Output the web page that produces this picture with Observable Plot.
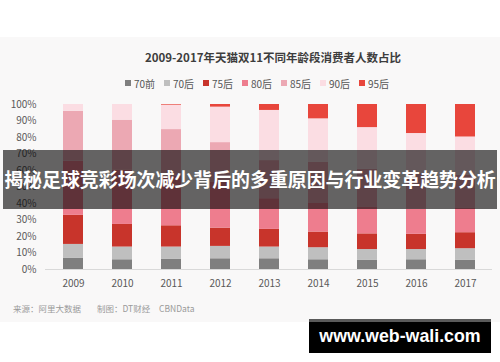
<!DOCTYPE html>
<html><head><meta charset="utf-8">
<script src="https://cdn.jsdelivr.net/npm/d3@7"></script>
<script src="https://cdn.jsdelivr.net/npm/@observablehq/plot@0.6"></script>
<style>
body{margin:0;background:#fff;}
#wrap{position:relative;width:500px;height:362px;overflow:hidden;font-family:"Noto Sans CJK SC","Noto Sans",sans-serif;background:#fff;}
#panel{position:absolute;left:0;top:37px;width:500px;height:285px;background:#f9f8f8;}
#title{position:absolute;left:46px;width:454px;top:49px;text-align:center;font-size:11.5px;line-height:16px;font-weight:bold;color:#3d3d3d;white-space:nowrap;}
.leg{position:absolute;top:76px;height:14px;display:flex;align-items:center;font-size:10px;color:#555;white-space:nowrap;}
.leg i{display:inline-block;width:6px;height:6px;margin-right:3px;}
#chart{position:absolute;left:0;top:95px;}
.foot{position:absolute;top:301px;font-size:8.5px;line-height:14px;color:#9a9a9a;white-space:nowrap;}
#banner{position:absolute;left:3px;top:150px;width:494px;height:59px;background:rgba(0,0,0,0.6);display:flex;align-items:center;justify-content:center;overflow:hidden;}
#banner span{color:#fff;font-weight:bold;font-size:19px;line-height:1;white-space:nowrap;display:inline-block;}
#wm{position:absolute;left:309px;top:319px;width:182px;height:34px;background:#000;border-top:3px solid #5a5a5a;box-sizing:border-box;color:#fff;font-family:"Liberation Sans",Arial,sans-serif;font-weight:bold;font-size:17.8px;line-height:29px;text-align:center;}
</style></head>
<body>
<div id="wrap">
  <div id="panel"></div>
  <div id="title">2009-2017年天猫双11不同年龄段消费者人数占比</div>
  <div id="legend"></div>
  <div id="chart"></div>
  <div class="foot" style="left:13px">来源：阿里大数据</div>
  <div class="foot" style="left:97px">制图：DT财经</div>
  <div class="foot" style="left:159px">CBNData</div>
  <div id="banner"><span id="btext">揭秘足球竞彩场次减少背后的多重原因与行业变革趋势分析</span></div>
  <div id="wm">www.web-wali.com</div>
</div>
<script>
const years = ["2009","2010","2011","2012","2013","2014","2015","2016","2017"];
const ages = ["70前","70后","75后","80后","85后","90后","95后"];
const ageColors = ["#7f7f7f","#bfbfbf","#c8342b","#ee7d8e","#eca8b3","#fbdde3","#e8463c"];
const yTicks = [0,10,20,30,40,50,60,70,80,90,100];

const s70qian = [6.9, 5.9, 6.3, 6.5, 6.5, 5.9, 5.5, 5.9, 5.5];
const s70hou  = [8.3, 7.7, 7.3, 7.5, 7.1, 7.3, 6.6, 6.2, 7.1];
const s75hou  = [17.6, 13.7, 12.9, 11.1, 10.7, 9.5, 9.5, 9.2, 9.7];
const s80hou  = [32.8, 33.0, 30.0, 28.0, 18.6, 17.3, 16.0, 15.2, 14.7];
const s85hou  = [30.3, 30.2, 28.3, 23.8, 23.1, 25.0, 23.1, 21.5, 20.0];
const s90hou  = [4.1, 9.5, 14.8, 21.5, 30.4, 26.3, 25.3, 24.4, 23.3];
const s95hou  = [0, 0, 0.4, 1.6, 3.6, 8.7, 14.0, 17.6, 19.7];

const series = [s70qian, s70hou, s75hou, s80hou, s85hou, s90hou, s95hou];
const data = ages.flatMap((a, i) => years.map((y, j) => ({year: y, age: a, value: series[i][j]})));

// legend
const leg = document.getElementById("legend");
ages.forEach((a, i) => {
  const d = document.createElement("div");
  d.className = "leg";
  d.style.left = (125 + i * 39) + "px";
  d.innerHTML = `<i style="background:${ageColors[i]}"></i>${a}`;
  leg.appendChild(d);
});

const chart = Plot.plot({
  width: 500,
  height: 195,
  marginTop: 9,
  marginBottom: 21,
  marginLeft: 45,
  marginRight: 8,
  style: {background: "transparent", fontFamily: '"Noto Sans CJK SC","Noto Sans",sans-serif', fontSize: "10px", color: "#595959"},
  x: {domain: years, paddingInner: 0.6, paddingOuter: 0.28, label: null, tickSize: 0, tickPadding: 10},
  y: {domain: [0, 100], ticks: yTicks, tickFormat: d => d + "%", label: null, tickSize: 0, tickPadding: 9},
  color: {domain: ages, range: ageColors},
  marks: [
    Plot.barY(data, {x: "year", y: "value", fill: "age"}),
    Plot.ruleY([0], {stroke: "#d9d9d9"})
  ]
});
document.getElementById("chart").appendChild(chart);

// fit banner text to 492px
const bt = document.getElementById("btext");
let fs = 19;
bt.style.fontSize = fs + "px";
const w = bt.getBoundingClientRect().width;
if (w > 0) { fs = fs * 492 / w; bt.style.fontSize = fs.toFixed(2) + "px"; }
</script>
</body></html>
